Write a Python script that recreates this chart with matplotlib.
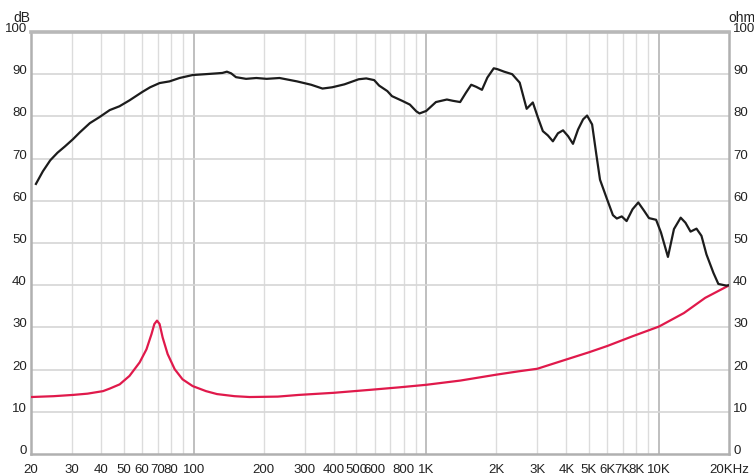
import matplotlib.pyplot as plt
import numpy as np

# frequency response (dB)
splFreq = [21, 22.5, 24.2, 26, 28, 30.3, 32.4, 35.8, 39.3, 43.6, 48, 53, 60.2, 65, 71.4, 78.8, 87, 99,
           112, 126, 133, 139, 145, 152, 168, 186, 206, 234, 278, 320, 358, 394, 445, 512, 552, 597,
           627, 680, 712, 787, 850, 906, 935, 1000, 1100, 1226, 1300, 1398, 1480, 1560, 1640, 1735,
           1830, 1950, 2020, 2160, 2340, 2520, 2700, 2870, 3020, 3170, 3330, 3500, 3680, 3870,
           4070, 4270, 4490, 4720, 4910, 5160, 5370, 5580, 5980, 6340, 6590, 6920, 7260, 7700, 8150,
           8640, 9060, 9720, 10200, 10930, 11600, 12400, 13000, 13670, 14500, 15230, 16000,
           17150, 18000, 19470, 20000]
splDb = [64.0, 67.0, 69.6, 71.4, 72.9, 74.6, 76.2, 78.4, 79.8, 81.5, 82.4, 83.8, 85.8, 86.9, 87.9, 88.3, 89.1, 89.8,
         90.0, 90.2, 90.3, 90.6, 90.2, 89.3, 88.9, 89.1, 88.9, 89.1, 88.3, 87.5, 86.6, 86.9, 87.6, 88.8, 89.0, 88.6,
         87.3, 86.0, 84.8, 83.7, 82.8, 81.2, 80.7, 81.3, 83.4, 84.0, 83.7, 83.4, 85.6, 87.5, 87.0, 86.3,
         89.2, 91.4, 91.2, 90.6, 90.0, 88.0, 81.8, 83.3, 79.7, 76.5, 75.5, 74.1, 76.0, 76.7,
         75.3, 73.5, 76.9, 79.3, 80.2, 78.1, 71.3, 65.0, 60.4, 56.6, 55.8, 56.3, 55.2, 58.0, 59.6,
         57.6, 55.9, 55.5, 52.5, 46.7, 53.3, 56.0, 54.8, 52.7, 53.4, 51.7, 47.3,
         42.9, 40.3, 39.9, 40.0]

# impedance (ohm)
impFreq = [20, 25, 30.3, 35, 40.8, 43.6, 48.1, 53, 58.6, 62.7, 65.9, 67.8, 69.6, 71.4, 73.6,
           77.3, 82.9, 89.6, 99, 113, 126, 150, 174, 230, 283, 400, 572, 767, 1000, 1400,
           2000, 2500, 3000, 4000, 5000, 6000, 7700, 10000, 12800, 15800, 19600, 20000]
impOhm = [13.5, 13.7, 14.0, 14.3, 14.9, 15.5, 16.5, 18.5, 21.7, 24.8, 28.4, 30.8, 31.6, 30.8, 27.6,
          23.7, 20.1, 17.7, 16.1, 14.9, 14.2, 13.7, 13.5, 13.6, 14.0, 14.5, 15.2, 15.8, 16.4, 17.4,
          18.8, 19.6, 20.2, 22.4, 24.1, 25.6, 27.9, 30.2, 33.4, 37.0, 39.7, 40.0]

tickFreqs = [20, 30, 40, 50, 60, 70, 80, 100, 200, 300, 400, 500, 600, 800,
             1000, 2000, 3000, 4000, 5000, 6000, 7000, 8000, 10000, 20000]
tickLabels = ['20', '30', '40', '50', '60', '70', '80', '100', '200', '300', '400', '500', '600', '800',
              '1K', '2K', '3K', '4K', '5K', '6K', '7K', '8K', '10K', '20KHz']
yTicks = list(range(0, 101, 10))

plt.rcParams['font.family'] = ['Liberation Sans Narrow', 'Liberation Sans', 'DejaVu Sans']

fig = plt.figure(figsize=(7.54, 4.75), dpi=100)
ax = fig.add_axes([31 / 754, 21 / 475, 698 / 754, 422 / 475])

ax.set_xscale('log')
ax.set_xlim(20, 20000)
ax.set_ylim(0, 100)

# grid
gridFreqs = [m * 10 ** e for e in range(1, 5) for m in range(1, 10)]
for f in gridFreqs:
    if 20 < f < 20000:
        if f in (100, 1000, 10000):
            ax.axvline(f, color='#b4b4b4', lw=1.2, zorder=1)
        else:
            ax.axvline(f, color='#dcdcdc', lw=1.0, zorder=1)
for v in yTicks[1:-1]:
    ax.axhline(v, color='#d6d6d6', lw=1.2, zorder=1)

ax.plot(impFreq, impOhm, color='#e0194b', lw=1.6, zorder=3, solid_joinstyle='round')
ax.plot(splFreq, splDb, color='#1c1c1c', lw=1.6, zorder=4, solid_joinstyle='round')

ax.minorticks_off()
ax.set_xticks(tickFreqs)
ax.set_xticklabels(tickLabels)
ax.set_yticks(yTicks)
ax.tick_params(axis='both', length=0, labelsize=9.5, colors='#222222')
ax.tick_params(axis='x', pad=7)
ax.tick_params(axis='y', pad=3, labelleft=True, labelright=True)
for t in ax.yaxis.get_major_ticks():
    t.label1.set_verticalalignment('baseline')
    t.label2.set_verticalalignment('baseline')
    t.label2.set_horizontalalignment('left')

for side in ['left', 'right', 'bottom']:
    ax.spines[side].set_color('#b0b0b0')
    ax.spines[side].set_linewidth(1.8)
ax.spines['top'].set_color('#b8b8b8')
ax.spines['top'].set_linewidth(2.6)

fig.text(13 / 754, 1 - 22 / 475, 'dB', fontsize=10, color='#222222', va='baseline')
fig.text(728 / 754, 1 - 22 / 475, 'ohm', fontsize=10, color='#222222', va='baseline')

fig.savefig('out.png', dpi=100, facecolor='white')
